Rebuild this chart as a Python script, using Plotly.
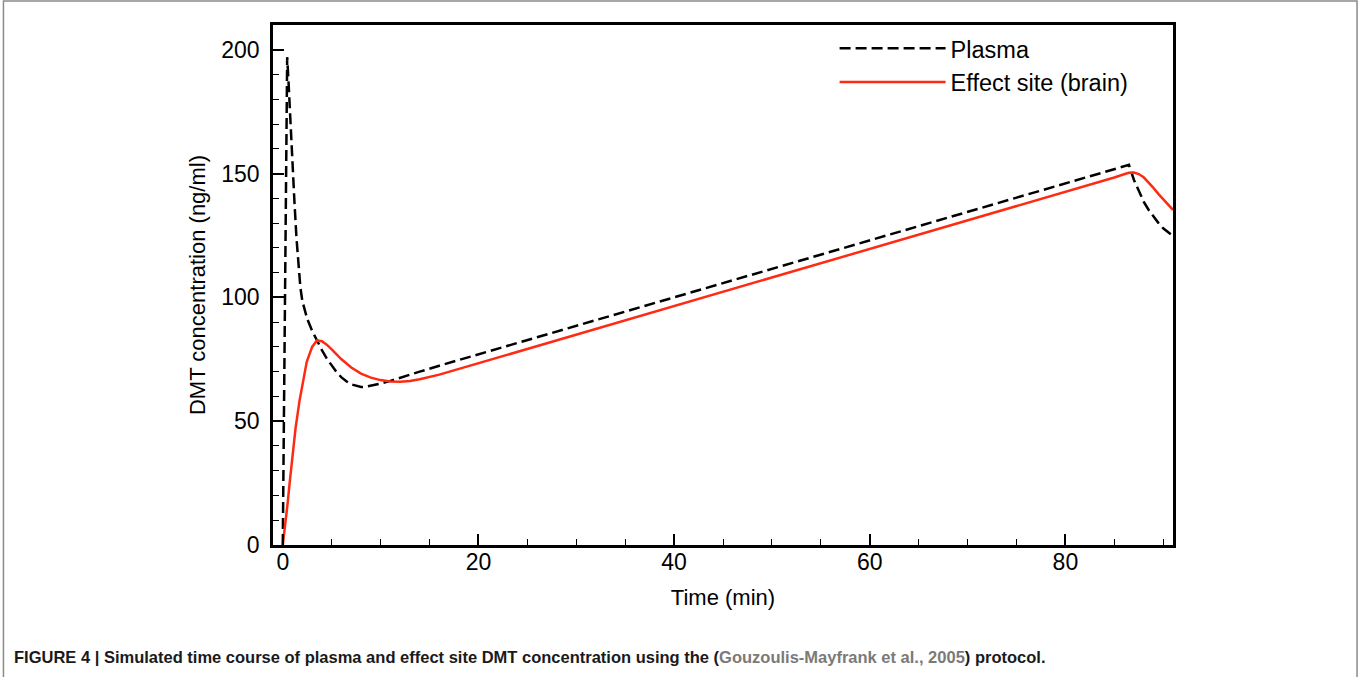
import plotly.graph_objects as go

# Time (min) and concentration (ng/ml)
plasma_t = [0, 0.1, 0.2, 0.3, 0.45, 0.6, 0.8, 1.0, 1.2, 1.4, 1.6, 1.8, 2.0, 2.25, 2.5, 3.0, 3.5,
            4.0, 4.5, 5.0, 5.5, 6.0, 6.5, 7.0, 7.5, 8.0, 8.5, 9.0, 10, 11, 12, 14, 16,
            20, 30, 40, 50, 60, 70, 80, 86.5, 87, 87.5, 88, 88.5, 89, 89.5, 90, 90.5, 91]
plasma_c = [0, 45, 90, 135, 197, 186, 168, 152, 138, 124, 112, 104, 98.5, 94.5, 91.3, 86.5, 82.5,
            78.7, 75.3, 72.3, 69.8, 67.7, 66.1, 64.9, 64.2, 63.8, 63.9, 64.3, 65.2, 66.3, 67.6, 70.0, 72.4,
            77.0, 88.5, 100, 111.5, 123, 134.5, 146, 153.5, 147.5, 142.8, 138.7, 135.4, 132.6, 130.1, 127.9, 126.2, 124.8]

effect_t = [0, 0.25, 0.5, 0.7, 1.0, 1.3, 1.7, 2.0, 2.45, 3.0, 3.5, 4.0, 4.5, 5.0, 6.0, 7.0,
            8.0, 9.0, 10, 11, 12, 13, 14, 16, 18, 20, 30, 40, 50, 60, 70, 80, 85, 86,
            86.5, 87, 87.5, 88, 88.5, 89, 89.5, 90, 90.5, 91]
effect_c = [0, 8, 17, 25, 37, 47, 58, 65, 74, 80, 82.6, 82.3, 80.9, 79.0, 75.0, 71.7,
            69.2, 67.6, 66.6, 66.0, 65.9, 66.2, 66.9, 68.8, 71.1, 73.6, 85.1, 96.6, 108.1, 119.6, 131.1, 142.6, 148.4, 149.7,
            150.3, 150.4, 149.8, 148.5, 146.5, 144.2, 141.8, 139.6, 137.4, 135.3]

x_ticks = [0, 20, 40, 60, 80]
y_ticks = [0, 50, 100, 150, 200]

FONT = "Liberation Sans, Arial, sans-serif"

fig = go.Figure()
fig.add_trace(go.Scatter(x=plasma_t, y=plasma_c, mode="lines", name="Plasma",
                         line=dict(color="black", width=2.5, dash="11px,5px")))
fig.add_trace(go.Scatter(x=effect_t, y=effect_c, mode="lines", name="Effect site (brain)",
                         line=dict(color="#ff2a12", width=2.5)))

axis_common = dict(showline=True, linecolor="black", linewidth=2.5, mirror=True,
                   ticks="inside", ticklen=11, tickwidth=1.5, tickcolor="black",
                   showgrid=False, zeroline=False,
                   tickfont=dict(family=FONT, size=23, color="black"))

fig.update_xaxes(range=[-1, 91], tickvals=x_ticks, ticklabelstandoff=-5,
                 minor=dict(ticks="inside", ticklen=6, tickwidth=1.2, tickcolor="black", dtick=5, tick0=0),
                 title=dict(text="Time (min)", font=dict(family=FONT, size=22, color="black"), standoff=16),
                 **axis_common)
fig.update_yaxes(range=[0, 210], tickvals=y_ticks, ticklabelstandoff=6,
                 minor=dict(ticks="inside", ticklen=6, tickwidth=1.2, tickcolor="black", dtick=10, tick0=0),
                 title=dict(text="DMT concentration (ng/ml)", font=dict(family=FONT, size=22, color="black"), standoff=10),
                 **axis_common)

fig.update_layout(
    width=1360, height=677,
    margin=dict(l=273, r=187, t=25, b=132, autoexpand=False),
    paper_bgcolor="white", plot_bgcolor="white",
    font=dict(family=FONT, color="black"),
    legend=dict(x=0.624, y=0.997, xanchor="left", yanchor="top",
                bgcolor="rgba(0,0,0,0)", itemwidth=106,
                font=dict(family=FONT, size=23.5, color="black"),
                tracegroupgap=0),
    shapes=[dict(type="rect", xref="paper", yref="paper",
                 x0=-0.2995, x1=1.2045, y0=-0.30, y1=1.046,
                 line=dict(color="#8a8a8a", width=1.5), layer="below")],
    annotations=[dict(
        xref="paper", yref="paper", x=-0.29, y=-0.215, xanchor="left", yanchor="middle",
        showarrow=False, align="left",
        text=("<b>FIGURE 4 | Simulated time course of plasma and effect site DMT concentration using the "
              "(<span style='color:#7a7a7a'>Gouzoulis-Mayfrank et al., 2005</span>) protocol.</b>"),
        font=dict(family=FONT, size=16.5, color="#1a1a1a"))],
)

fig.write_html("out.html")
